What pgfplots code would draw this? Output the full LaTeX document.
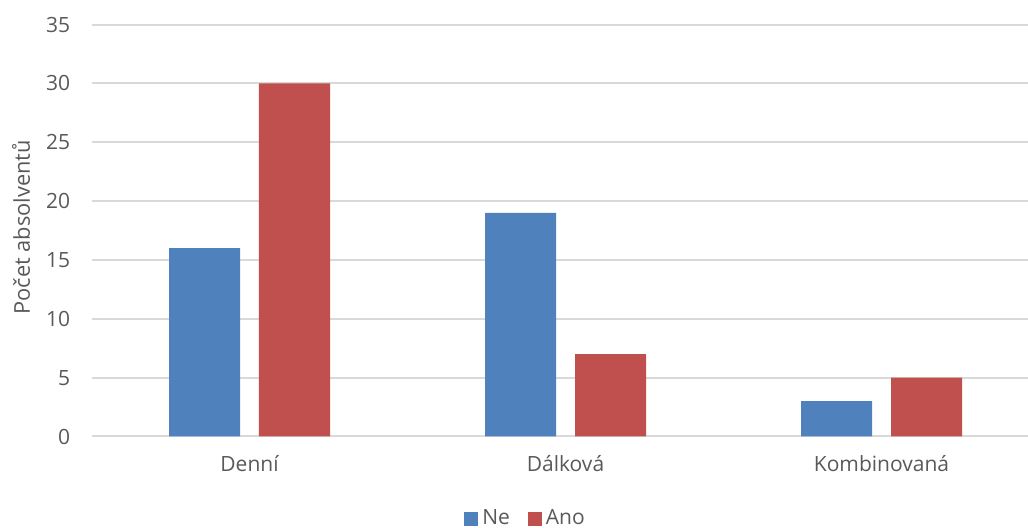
\documentclass[border=0pt]{standalone}
\usepackage{pgfplots}
\pgfplotsset{compat=1.18}
\usepackage{fontspec}
\setmainfont{Open Sans}
\definecolor{cNe}{HTML}{4F81BD}
\definecolor{cAno}{HTML}{C0504D}
\definecolor{gridc}{HTML}{D9D9D9}
\definecolor{txt}{HTML}{595959}
\newcommand\lblfont{\fontsize{10.5}{12.6}\selectfont}
\begin{document}
\begin{tikzpicture}
\lblfont
\begin{axis}[
  at={(45.75pt,45.75pt)}, anchor=south west,
  scale only axis,
  width=468.25pt, height=205.95pt,
  xmin=-0.5, xmax=2.4636,
  ymin=0, ymax=35,
  ytick={0,5,...,35},
  xtick={0,1,2},
  xticklabels={Denní,Dálková,Kombinovaná},
  axis line style={draw=none},
  major tick length=0pt,
  ymajorgrids, xmajorgrids=false,
  grid style={draw=gridc, line width=1pt},
  tick label style={text=txt, font=\lblfont},
  /pgf/number format/assume math mode=true,
  yticklabel style={xshift=-7pt},
  xticklabel style={yshift=-6pt},
  ybar,
  bar width=0.2247,
  legend columns=-1,
  legend style={at={(0.4645,-0.200)}, anchor=center, draw=none, fill=none,
    font=\lblfont, text=txt,
    /tikz/every even column/.append style={column sep=7pt}},
  legend image code/.code={\fill[#1] (0pt,-3.5pt) rectangle (7pt,3.5pt);},
]
\addplot[fill=cNe, draw=none, bar shift=-0.1424] coordinates {(0,16) (1,19) (2,3)};
\addlegendentry{Ne}
\addplot[fill=cAno, draw=none, bar shift=0.1424] coordinates {(0,30) (1,7) (2,5)};
\addlegendentry{Ano}
\end{axis}
\node[rotate=90, anchor=center, text=txt, font=\fontsize{10.9}{13}\selectfont] at (10.5pt,150.3pt) {Počet absolventů};
\pgfresetboundingbox
\path[use as bounding box] (0,0) rectangle (514pt,264pt);
\end{tikzpicture}
\end{document}
